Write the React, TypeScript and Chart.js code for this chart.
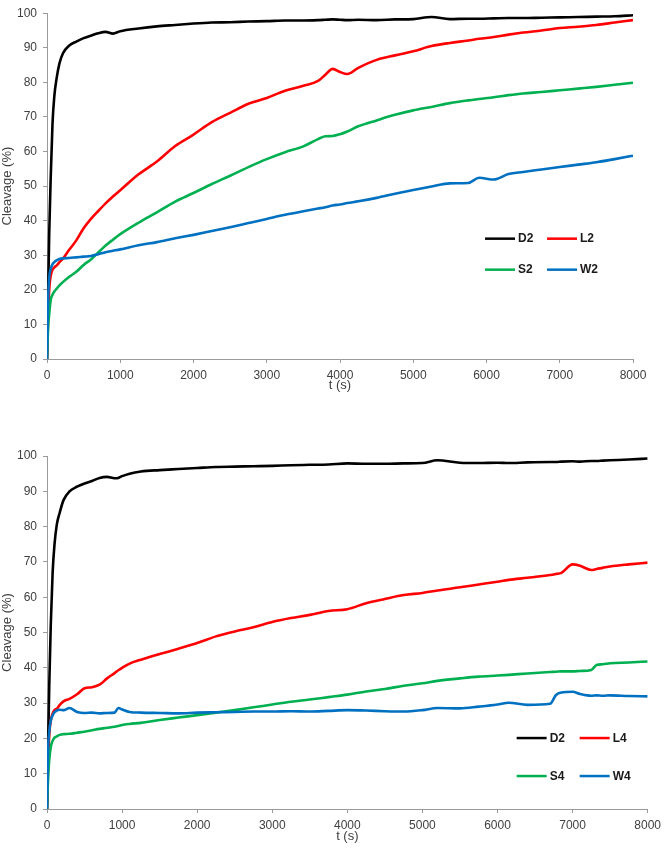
import { useEffect, useRef } from "react";
import { Chart, registerables } from "chart.js";

Chart.register(...registerables);

// Upper panel: D2 / L2 / S2 / W2
const topTimes = [
  0, 15, 30, 50, 75, 100, 130, 170, 220, 300,
  400, 500, 600, 700, 800, 900, 1000,
  1250, 1500, 1750, 2000, 2250, 2500, 2750, 3000, 3250, 3500,
  3700, 3800, 3900, 4000, 4100, 4250, 4500, 4750, 5000,
  5250, 5500, 5750, 5900, 6100, 6300, 6500, 6750, 7000,
  7250, 7500, 7750, 8000,
];
const topD2 = [
  0, 18, 36, 52, 68, 76, 81, 85.5, 88.5, 90.6,
  91.8, 92.8, 93.5, 94.2, 94.6, 94.1, 94.8,
  95.6, 96.2, 96.6, 97, 97.3, 97.4, 97.6, 97.7, 97.9, 97.9,
  98, 98.1, 98.2, 98.1, 98, 98.1, 98, 98.2, 98.3,
  98.9, 98.3, 98.4, 98.4, 98.5, 98.6, 98.6, 98.7, 98.8,
  98.9, 99, 99.1, 99.4,
];
const topL2 = [
  0, 12, 20, 24, 25.8, 26.5, 27, 28, 29.1, 31.5,
  34.3, 37.8, 40.5, 42.8, 45, 47, 48.8,
  53.4, 57.1, 61.6, 64.9, 68.5, 71.2, 73.8, 75.5, 77.6, 79,
  80.4, 82.2, 83.9, 83, 82.4, 84.2, 86.5, 87.8, 89,
  90.5, 91.4, 92.1, 92.6, 93.1, 93.8, 94.4, 95, 95.7,
  96.1, 96.6, 97.3, 98,
];
const topS2 = [
  0, 9, 13, 17, 18.6, 19.5, 20.3, 21.3, 22.3, 23.7,
  25.2, 27.2, 28.8, 30.8, 32.8, 34.5, 36.1,
  39.4, 42.4, 45.5, 48, 50.6, 53, 55.5, 57.8, 59.8, 61.5,
  63.6, 64.4, 64.5, 65, 65.8, 67.3, 69, 70.6, 71.9,
  72.9, 74, 74.8, 75.2, 75.7, 76.3, 76.8, 77.2, 77.7,
  78.2, 78.7, 79.3, 79.9,
];
const topW2 = [
  0, 17, 23.5, 26, 27.4, 28, 28.5, 28.9, 29.1, 29.2,
  29.4, 29.6, 29.8, 30.3, 30.9, 31.3, 31.7,
  32.9, 33.8, 34.9, 35.9, 37, 38.1, 39.3, 40.5, 41.7, 42.7,
  43.5, 43.9, 44.4, 44.7, 45.1, 45.6, 46.6, 47.8, 48.9,
  49.9, 50.8, 50.9, 52.4, 51.9, 53.5, 54.1, 54.8, 55.5,
  56.2, 56.9, 57.8, 58.8,
];

// Lower panel: D2 / L4 / S4 / W4
const bottomTimes = [
  0, 15, 30, 50, 75, 100, 130, 170, 220, 300,
  400, 500, 600, 700, 800, 900, 950, 1000, 1100, 1250,
  1500, 1750, 2000, 2250, 2500, 2750, 3000, 3250, 3500, 3750,
  4000, 4250, 4500, 4750, 5000, 5200, 5500, 5750, 6000, 6150,
  6400, 6700, 6780, 6850, 7000, 7100, 7250, 7320, 7400, 7500,
  7750, 8000,
];
const bottomD2 = [
  0, 18, 35, 52, 67, 75, 80.5, 84, 87.5, 90,
  91.3, 92.2, 92.9, 93.8, 94.1, 93.7, 93.8, 94.3, 95, 95.6,
  96, 96.3, 96.6, 96.9, 97, 97.1, 97.2, 97.4, 97.5, 97.6,
  97.9, 97.8, 97.8, 97.9, 98, 98.8, 98.1, 98, 98.1, 98,
  98.2, 98.3, 98.3, 98.4, 98.5, 98.4, 98.6, 98.6, 98.7, 98.8,
  99, 99.3,
];
const bottomL4 = [
  0, 13, 21, 25, 27, 28, 28.4, 29.5, 30.5, 31.2,
  32.5, 34.2, 34.5, 35.2, 37, 38.5, 39.3, 40, 41.2, 42.3,
  43.9, 45.4, 47, 48.9, 50.3, 51.5, 53, 54.1, 55, 56.1,
  56.6, 58.3, 59.5, 60.6, 61.2, 61.9, 62.8, 63.6, 64.4, 64.9,
  65.5, 66.3, 66.6, 66.9, 69.3, 68.9, 67.7, 68, 68.3, 68.7,
  69.3, 69.8,
];
const bottomS4 = [
  0, 9, 14, 17.5, 19.3, 20.2, 20.6, 21, 21.2, 21.3,
  21.6, 21.9, 22.3, 22.7, 23, 23.3, 23.5, 23.8, 24.1, 24.4,
  25.2, 25.9, 26.6, 27.3, 28, 28.8, 29.6, 30.4, 31, 31.7,
  32.4, 33.3, 34, 34.9, 35.6, 36.3, 37, 37.5, 37.8, 38,
  38.4, 38.8, 38.9, 39, 39, 39.1, 39.4, 40.8, 41, 41.3,
  41.5, 41.8,
];
const bottomW4 = [
  0, 17, 22, 25, 26.5, 27.4, 27.9, 28.1, 28, 28.6,
  27.5, 27.2, 27.3, 27.1, 27.2, 27.3, 28.6, 28.2, 27.5, 27.3,
  27.2, 27.1, 27.3, 27.4, 27.5, 27.6, 27.6, 27.7, 27.6, 27.8,
  28, 27.9, 27.7, 27.6, 28, 28.6, 28.5, 29, 29.6, 30.1,
  29.5, 29.8, 32.3, 33, 33.2, 32.6, 32.1, 32.2, 32.1, 32.2,
  32, 31.9,
];

const xTicks = [0, 1000, 2000, 3000, 4000, 5000, 6000, 7000, 8000];
const yTicks = [0, 10, 20, 30, 40, 50, 60, 70, 80, 90, 100];

const COLORS = ["#000000", "#ff0000", "#00b050", "#0070c0"];
const AXIS_GREY = "#9a9a9a";
const TEXT_GREY = "#404040";
const FONT = "'Liberation Sans', Arial, sans-serif";

interface Series {
  label: string;
  values: number[];
}

interface PanelProps {
  times: number[];
  series: Series[];
  top: number;
  height: number;
  padTop: number;
  padRight: number;
  xAxisHeight: number;
  titlePad: number;
  legendAt: { t: number; v: number; colGap: number; rowGap: number };
}

// 2x2 legend drawn inside the plot area
const makeLegend = (legendAt: PanelProps["legendAt"]) => ({
  id: "cornerLegend",
  afterDraw(chart: Chart) {
    const { ctx, scales } = chart;
    const x0 = scales.x.getPixelForValue(legendAt.t);
    const y0 = scales.y.getPixelForValue(legendAt.v);
    ctx.save();
    ctx.font = `bold 12px ${FONT}`;
    ctx.textBaseline = "middle";
    chart.data.datasets.forEach((ds, i) => {
      const lx = x0 + (i % 2) * legendAt.colGap;
      const ly = y0 + Math.floor(i / 2) * legendAt.rowGap;
      ctx.strokeStyle = ds.borderColor as string;
      ctx.lineWidth = 2.5;
      ctx.beginPath();
      ctx.moveTo(lx, ly);
      ctx.lineTo(lx + 30, ly);
      ctx.stroke();
      ctx.fillStyle = "#1a1a1a";
      ctx.fillText(ds.label as string, lx + 33, ly + 0.5);
    });
    ctx.restore();
  },
});

const CleavagePanel = (props: PanelProps) => {
  const canvasRef = useRef<HTMLCanvasElement | null>(null);

  useEffect(() => {
    if (!canvasRef.current) return;
    const chart = new Chart(canvasRef.current, {
      type: "line",
      data: {
        datasets: props.series.map((s, i) => ({
          label: s.label,
          data: props.times.map((t, k) => ({ x: t, y: s.values[k] })),
          borderColor: COLORS[i],
          backgroundColor: COLORS[i],
          borderWidth: 2.6,
          pointRadius: 0,
          cubicInterpolationMode: "monotone" as const,
          order: props.series.length - i, // later series drawn on top
        })),
      },
      options: {
        animation: false,
        responsive: true,
        maintainAspectRatio: false,
        layout: { padding: { top: props.padTop, right: props.padRight, left: 0, bottom: 0 } },
        plugins: { legend: { display: false }, tooltip: { enabled: false } },
        scales: {
          x: {
            type: "linear",
            min: 0,
            max: 8000,
            afterBuildTicks: (axis) => {
              axis.ticks = xTicks.map((value) => ({ value }));
            },
            afterFit: (axis) => {
              axis.height = props.xAxisHeight;
            },
            ticks: {
              color: TEXT_GREY,
              font: { family: FONT, size: 12 },
              padding: 5,
              maxRotation: 0,
              callback: (v) => String(v),
            },
            grid: { drawOnChartArea: false, drawTicks: true, tickLength: 4, color: AXIS_GREY },
            border: { color: AXIS_GREY, width: 1 },
            title: {
              display: true,
              text: "t (s)",
              color: TEXT_GREY,
              font: { family: FONT, size: 13 },
              padding: { top: 0, bottom: props.titlePad },
            },
          },
          y: {
            min: 0,
            max: 100,
            afterBuildTicks: (axis) => {
              axis.ticks = yTicks.map((value) => ({ value }));
            },
            afterFit: (axis) => {
              axis.width = 47;
            },
            ticks: { color: TEXT_GREY, font: { family: FONT, size: 12 }, padding: 6 },
            grid: { drawOnChartArea: false, drawTicks: true, tickLength: 4, color: AXIS_GREY },
            border: { color: AXIS_GREY, width: 1 },
            title: {
              display: true,
              text: "Cleavage (%)",
              color: TEXT_GREY,
              font: { family: FONT, size: 13 },
              padding: { top: 0, bottom: 0 },
            },
          },
        },
      },
      plugins: [makeLegend(props.legendAt)],
    });
    return () => {
      chart.destroy();
    };
  }, [props]);

  return (
    <div style={{ position: "absolute", left: 0, top: props.top, width: 666, height: props.height }}>
      <canvas ref={canvasRef}></canvas>
    </div>
  );
};

const topProps: PanelProps = {
  times: topTimes,
  series: [
    { label: "D2", values: topD2 },
    { label: "L2", values: topL2 },
    { label: "S2", values: topS2 },
    { label: "W2", values: topW2 },
  ],
  top: 0,
  height: 400,
  padTop: 6,
  padRight: 33,
  xAxisHeight: 41,
  titlePad: 7,
  legendAt: { t: 5980, v: 34.8, colGap: 62, rowGap: 31 },
};

const bottomProps: PanelProps = {
  times: bottomTimes,
  series: [
    { label: "D2", values: bottomD2 },
    { label: "L4", values: bottomL4 },
    { label: "S4", values: bottomS4 },
    { label: "W4", values: bottomW4 },
  ],
  top: 410,
  height: 441,
  padTop: 46,
  padRight: 14,
  xAxisHeight: 42,
  titlePad: 7,
  legendAt: { t: 6255, v: 20.1, colGap: 63, rowGap: 38 },
};

const App = () => {
  return (
    <div style={{ position: "absolute", left: 0, top: 0, width: 666, height: 851, background: "#fff" }}>
      <CleavagePanel {...topProps} />
      <CleavagePanel {...bottomProps} />
    </div>
  );
};

export default App;
